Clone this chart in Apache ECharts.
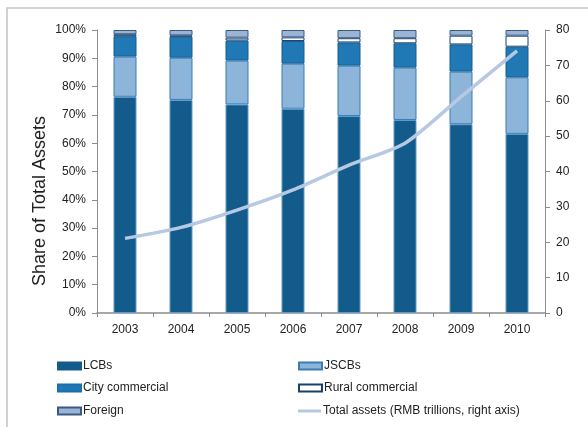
<!DOCTYPE html>
<html>
<head>
<meta charset="utf-8">
<script src="https://cdn.jsdelivr.net/npm/echarts@6/dist/echarts.min.js"></script>
<style>
html,body{margin:0;padding:0;background:#fff;}
#c{width:588px;height:427px;}
</style>
</head>
<body>
<div id="c"></div>
<script>
var years = ['2003','2004','2005','2006','2007','2008','2009','2010'];
var lcbs = [76.4, 75.3, 73.7, 72.2, 69.6, 68.2, 66.7, 63.3];
var jscbs = [14.2, 14.9, 15.5, 15.9, 17.8, 18.5, 18.6, 20.0];
var cityCommercial = [7.2, 7.4, 7.1, 8.0, 8.2, 8.6, 9.6, 10.8];
var ruralCommercial = [0.7, 0.5, 1.0, 1.3, 1.5, 1.8, 3.1, 3.9];
var foreign = [1.5, 1.9, 2.7, 2.6, 2.9, 2.9, 2.0, 2.0];
var totalAssets = [21.1, 24.2, 29.1, 34.8, 41.8, 48.0, 61.1, 74.1];
var leftTicks = [0, 10, 20, 30, 40, 50, 60, 70, 80, 90, 100];
var rightTicks = [0, 10, 20, 30, 40, 50, 60, 70, 80];
var yAxisTitle = 'Share of Total Assets';

var FONT = 'Liberation Sans, Arial, sans-serif';
var chart = echarts.init(document.getElementById('c'));
var axisGray = '#8c8c8c';
function legendAt(item, left, top, extra) {
  var l = {
    data: [item], left: left, top: top, orient: 'horizontal', icon: 'rect',
    itemWidth: 23, itemHeight: 7, itemGap: 2, padding: 0,
    textStyle: {fontFamily: FONT, fontSize: 12, color: '#222', padding: [0, 0, 0, -3]},
    selectedMode: false
  };
  for (var k in extra) l[k] = extra[k];
  return l;
}
function barSeries(name, data, color, border) {
  return {
    name: name, type: 'bar', stack: 'share', data: data, barWidth: 23,
    itemStyle: {color: color, borderColor: border, borderWidth: 1},
    emphasis: {disabled: true}
  };
}
chart.setOption({
  animation: false,
  backgroundColor: '#fff',
  graphic: [{
    type: 'rect', shape: {x: 7, y: 8, width: 620, height: 440},
    style: {fill: 'none', stroke: '#c4c4c4', lineWidth: 1.5}, silent: true
  }, {
    type: 'text', x: 40, y: 201, rotation: Math.PI / 2,
    style: {text: yAxisTitle, font: '18px ' + FONT, fill: '#222', align: 'center', verticalAlign: 'middle'},
    silent: true
  }],
  grid: {left: 97, right: 43, top: 30, bottom: 114, containLabel: false},
  legend: [
    legendAt({name: 'LCBs', itemStyle: {borderColor: '#135b8b'}}, 57, 360),
    legendAt('JSCBs', 298, 360),
    legendAt({name: 'City commercial', itemStyle: {borderColor: '#1c6fa8'}}, 57, 382),
    legendAt('Rural commercial', 298, 382),
    legendAt('Foreign', 57, 405),
    legendAt('Total assets (RMB trillions, right axis)', 298, 405, {itemHeight: 3})
  ],
  xAxis: {
    type: 'category', data: years,
    axisLine: {lineStyle: {color: axisGray, width: 1.5}},
    axisTick: {show: true, length: 4, lineStyle: {color: axisGray}},
    axisLabel: {fontFamily: FONT, fontSize: 12, color: '#222', margin: 11}
  },
  yAxis: [{
    type: 'value', min: 0, max: 100, interval: 10,
    axisLine: {show: true, lineStyle: {color: axisGray}},
    axisTick: {show: true, length: 5, lineStyle: {color: axisGray}},
    splitLine: {show: false},
    axisLabel: {fontFamily: FONT, fontSize: 12, color: '#222', margin: 11,
      formatter: function (v) { return leftTicks.indexOf(v) >= 0 ? v + '%' : ''; }}
  }, {
    type: 'value', min: 0, max: 80, interval: 10, position: 'right',
    axisLine: {show: true, lineStyle: {color: axisGray}},
    axisTick: {show: true, length: 5, lineStyle: {color: axisGray}},
    splitLine: {show: false},
    axisLabel: {fontFamily: FONT, fontSize: 12, color: '#222', margin: 11,
      formatter: function (v) { return rightTicks.indexOf(v) >= 0 ? String(v) : ''; }}
  }],
  series: [
    barSeries('LCBs', lcbs, '#135b8b', '#5d9bcb'),
    barSeries('JSCBs', jscbs, '#8db5da', '#3a7db3'),
    barSeries('City commercial', cityCommercial, '#2079b4', '#165e91'),
    barSeries('Rural commercial', ruralCommercial, '#ffffff', '#17416d'),
    barSeries('Foreign', foreign, '#9ab4d6', '#3d5b82'),
    {
      name: 'Total assets (RMB trillions, right axis)', type: 'line', yAxisIndex: 1,
      data: totalAssets, smooth: 0.25, showSymbol: false, symbol: 'none',
      lineStyle: {color: '#b7c9e2', width: 3.5},
      itemStyle: {color: '#b7c9e2'},
      emphasis: {disabled: true}, z: 5
    }
  ]
});
</script>
</body>
</html>
